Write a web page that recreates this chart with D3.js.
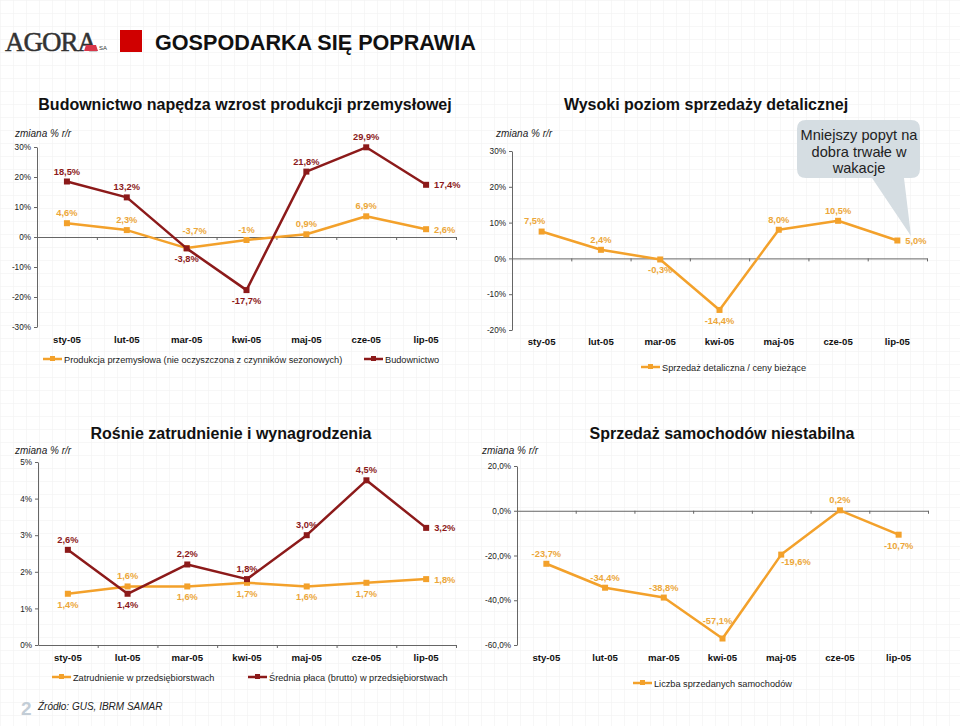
<!DOCTYPE html>
<html>
<head>
<meta charset="utf-8">
<script src="https://cdn.jsdelivr.net/npm/d3@7"></script>
<style>
  body { margin: 0; background: #fff; }
  svg { display: block; font-family: "Liberation Sans", Arial, sans-serif; }
  .axis path, .axis line { stroke: #666; }
  .axis text { fill: #222; font-size: 8.2px; }
  .cat-axis text { font-size: 9.6px; font-weight: bold; fill: #111; }
</style>
</head>
<body>
<div id="chart"></div>
<script>
//data
var months = ['sty-05', 'lut-05', 'mar-05', 'kwi-05', 'maj-05', 'cze-05', 'lip-05'];

var produkcja = [4.6, 2.3, -3.7, -1, 0.9, 6.9, 2.6];
var produkcjaLabels = ['4,6%', '2,3%', '-3,7%', '-1%', '0,9%', '6,9%', '2,6%'];
var budownictwo = [18.5, 13.2, -3.8, -17.7, 21.8, 29.9, 17.4];
var budownictwoLabels = ['18,5%', '13,2%', '-3,8%', '-17,7%', '21,8%', '29,9%', '17,4%'];

var detaliczna = [7.5, 2.4, -0.3, -14.4, 8.0, 10.5, 5.0];
var detalicznaLabels = ['7,5%', '2,4%', '-0,3%', '-14,4%', '8,0%', '10,5%', '5,0%'];

var zatrudnienie = [1.4, 1.6, 1.6, 1.7, 1.6, 1.7, 1.8];
var zatrudnienieLabels = ['1,4%', '1,6%', '1,6%', '1,7%', '1,6%', '1,7%', '1,8%'];
var placa = [2.6, 1.4, 2.2, 1.8, 3.0, 4.5, 3.2];
var placaLabels = ['2,6%', '1,4%', '2,2%', '1,8%', '3,0%', '4,5%', '3,2%'];

var samochody = [-23.7, -34.4, -38.8, -57.1, -19.6, 0.2, -10.7];
var samochodyLabels = ['-23,7%', '-34,4%', '-38,8%', '-57,1%', '-19,6%', '0,2%', '-10,7%'];

var ticks1 = [-30, -20, -10, 0, 10, 20, 30];
var ticks2 = [-20, -10, 0, 10, 20, 30];
var ticks3 = [0, 1, 2, 3, 4, 5];
var ticks4 = [-60, -40, -20, 0, 20];

//label placement (t = above, b = below, r = right ...)
var produkcjaPos = ['t', 't', 'tr', 't', 't', 't', 'r'];
var budownictwoPos = ['t', 't', 'b', 'b', 't', 't', 'r'];
var detalicznaPos = ['tl', 't', 'b', 'b', 't', 't', 'r'];
var zatrudnieniePos = ['b', 't', 'b', 'b', 'b', 'b', 'r'];
var placaPos = ['t', 'b', 't', 't', 't', 't', 'r'];
var samochodyPos = ['t', 't', 't', 'tt', 'br', 't', 'b'];

var orange = '#f3a12b',
    orangeText = '#eca73a',
    darkRed = '#8c1a1a';

var W = 960, H = 726;

var svg = d3.select('#chart').append('svg')
    .attr('width', W)
    .attr('height', H);

//faint graph paper background
var pat = svg.append('defs').append('pattern')
    .attr('id', 'grid')
    .attr('width', 13)
    .attr('height', 13)
    .attr('patternUnits', 'userSpaceOnUse');
pat.append('path')
    .attr('d', 'M13 0 L0 0 0 13')
    .attr('fill', 'none')
    .attr('stroke', '#f0f0f0')
    .attr('stroke-width', 1);
svg.append('rect').attr('width', W).attr('height', H).attr('fill', 'url(#grid)');

//header
var logo = svg.append('g');
logo.append('text')
    .attr('x', 5).attr('y', 51)
    .attr('font-family', '"Liberation Serif", serif')
    .attr('font-size', 27)
    .attr('fill', '#333')
    .attr('stroke', '#333')
    .attr('stroke-width', 0.5)
    .attr('letter-spacing', -1)
    .text('AGORA');
logo.append('polygon')
    .attr('points', '86,45 96,45 98,51 84,51')
    .attr('fill', '#d8374a');
logo.append('text')
    .attr('x', 99).attr('y', 50)
    .attr('font-size', 6)
    .attr('fill', '#333')
    .text('SA');

svg.append('rect')
    .attr('x', 120).attr('y', 30)
    .attr('width', 22).attr('height', 22)
    .attr('fill', '#d00000');

svg.append('text')
    .attr('x', 155).attr('y', 50)
    .attr('font-size', 21.6)
    .attr('font-weight', 'bold')
    .attr('fill', '#111')
    .text('GOSPODARKA SIĘ POPRAWIA');

function labelOffset(pos) {
    switch (pos) {
        case 't': return [0, -7, 'middle'];
        case 'b': return [0, 14, 'middle'];
        case 'r': return [8, 3.5, 'start'];
        case 'tr': return [8, -14, 'middle'];
        case 'tl': return [-7, -8, 'middle'];
        case 'tt': return [-5, -15, 'middle'];
        case 'br': return [0, 10, 'start'];
    }
}

function drawPanel(p) {
    var g = svg.append('g');

    var xScale = d3.scaleBand().domain(months).range([p.left, p.right]);
    var yScale = d3.scaleLinear().domain(p.domain).range([p.bottom, p.top]);

    //titles
    g.append('text')
        .attr('x', p.titleX).attr('y', p.titleY)
        .attr('text-anchor', 'middle')
        .attr('font-size', 16)
        .attr('font-weight', 'bold')
        .attr('fill', '#111')
        .text(p.title);

    g.append('text')
        .attr('x', p.unitX).attr('y', p.unitY)
        .attr('font-size', 10)
        .attr('font-style', 'italic')
        .attr('fill', '#222')
        .text('zmiana % r/r');

    //y axis
    var yAxis = d3.axisLeft(yScale)
        .tickValues(p.ticks)
        .tickSize(3)
        .tickSizeOuter(0)
        .tickFormat(p.fmt);
    g.append('g')
        .attr('class', 'axis')
        .attr('transform', 'translate(' + p.left + ',0)')
        .call(yAxis);

    //x axis line at zero with tick marks between categories
    var bounds = months.map(function(m) { return xScale(m) + xScale.bandwidth(); });
    var xLine = d3.axisBottom(d3.scaleLinear().domain([p.left, p.right]).range([p.left, p.right]))
        .tickValues(bounds)
        .tickSize(3)
        .tickSizeOuter(0)
        .tickFormat('');
    g.append('g')
        .attr('class', 'axis')
        .attr('transform', 'translate(0,' + yScale(0) + ')')
        .call(xLine);

    //category labels below the plot
    var catAxis = d3.axisBottom(xScale).tickSize(0).tickPadding(0);
    var ca = g.append('g')
        .attr('class', 'cat-axis')
        .attr('transform', 'translate(0,' + p.catY + ')')
        .call(catAxis);
    ca.select('.domain').remove();

    //series
    p.series.forEach(function(s) {
        var line = d3.line()
            .x(function(d, i) { return xScale(months[i]) + xScale.bandwidth() / 2; })
            .y(function(d) { return yScale(d); });

        g.append('path')
            .datum(s.values)
            .attr('fill', 'none')
            .attr('stroke', s.color)
            .attr('stroke-width', 2.5)
            .attr('stroke-linejoin', 'round')
            .attr('d', line);

        g.selectAll(null)
            .data(s.values)
            .enter()
            .append('rect')
            .attr('x', function(d, i) { return xScale(months[i]) + xScale.bandwidth() / 2 - 3; })
            .attr('y', function(d) { return yScale(d) - 3; })
            .attr('width', 6)
            .attr('height', 6)
            .attr('fill', s.color);

        g.selectAll(null)
            .data(s.values)
            .enter()
            .append('text')
            .attr('x', function(d, i) { return xScale(months[i]) + xScale.bandwidth() / 2 + labelOffset(s.pos[i])[0]; })
            .attr('y', function(d, i) { return yScale(d) + labelOffset(s.pos[i])[1]; })
            .attr('text-anchor', function(d, i) { return labelOffset(s.pos[i])[2]; })
            .attr('font-size', 9.3)
            .attr('font-weight', 'bold')
            .attr('fill', s.textColor)
            .text(function(d, i) { return s.labels[i]; });
    });

    //legend
    p.legend.forEach(function(l) {
        var lg = g.append('g').attr('transform', 'translate(' + l.x + ',' + p.legendY + ')');
        lg.append('line')
            .attr('x1', 0).attr('x2', 19)
            .attr('stroke', l.color)
            .attr('stroke-width', 2.5);
        lg.append('rect')
            .attr('x', 7).attr('y', -3)
            .attr('width', 5).attr('height', 5)
            .attr('fill', l.color);
        lg.append('text')
            .attr('x', 21).attr('y', 3.5)
            .attr('font-size', 9.2)
            .attr('fill', '#222')
            .text(l.text);
    });
}

var pct = function(d) { return d + '%'; };
var pct1 = function(d) { return d3.format('.1f')(d).replace('.', ',').replace('−', '-') + '%'; };

drawPanel({
    title: 'Budownictwo napędza wzrost produkcji przemysłowej', titleX: 245, titleY: 110,
    unitX: 15, unitY: 137,
    left: 37, right: 456, top: 147, bottom: 327, domain: [-30, 30], ticks: ticks1, fmt: pct,
    catY: 336, legendY: 359,
    series: [
        { values: produkcja, labels: produkcjaLabels, pos: produkcjaPos, color: orange, textColor: orangeText },
        { values: budownictwo, labels: budownictwoLabels, pos: budownictwoPos, color: darkRed, textColor: darkRed }
    ],
    legend: [
        { x: 43, color: orange, text: 'Produkcja przemysłowa (nie oczyszczona z czynników sezonowych)' },
        { x: 364, color: darkRed, text: 'Budownictwo' }
    ]
});

drawPanel({
    title: 'Wysoki poziom sprzedaży detalicznej', titleX: 706, titleY: 110,
    unitX: 496, unitY: 137,
    left: 512, right: 927, top: 151, bottom: 330, domain: [-20, 30], ticks: ticks2, fmt: pct,
    catY: 338, legendY: 367,
    series: [
        { values: detaliczna, labels: detalicznaLabels, pos: detalicznaPos, color: orange, textColor: orangeText }
    ],
    legend: [
        { x: 641, color: orange, text: 'Sprzedaż detaliczna / ceny bieżące' }
    ]
});

drawPanel({
    title: 'Rośnie zatrudnienie i wynagrodzenia', titleX: 231, titleY: 439,
    unitX: 15, unitY: 454,
    left: 38, right: 456, top: 462, bottom: 645, domain: [0, 5], ticks: ticks3, fmt: pct,
    catY: 654, legendY: 677,
    series: [
        { values: zatrudnienie, labels: zatrudnienieLabels, pos: zatrudnieniePos, color: orange, textColor: orangeText },
        { values: placa, labels: placaLabels, pos: placaPos, color: darkRed, textColor: darkRed }
    ],
    legend: [
        { x: 52, color: orange, text: 'Zatrudnienie w przedsiębiorstwach' },
        { x: 248, color: darkRed, text: 'Średnia płaca (brutto) w przedsiębiorstwach' }
    ]
});

drawPanel({
    title: 'Sprzedaż samochodów niestabilna', titleX: 722, titleY: 439,
    unitX: 482, unitY: 454,
    left: 517, right: 928, top: 466, bottom: 645, domain: [-60, 20], ticks: ticks4, fmt: pct1,
    catY: 654, legendY: 683,
    series: [
        { values: samochody, labels: samochodyLabels, pos: samochodyPos, color: orange, textColor: orangeText }
    ],
    legend: [
        { x: 633, color: orange, text: 'Liczba sprzedanych samochodów' }
    ]
});

//callout bubble
var bubble = svg.append('g');
bubble.append('path')
    .attr('d', 'M806,120 H911 Q920,120 920,129 V169 Q920,178 911,178 H904 L911,236 L872,178 H806 Q797,178 797,169 V129 Q797,120 806,120 Z')
    .attr('fill', '#d5dde2');
bubble.selectAll(null)
    .data(['Mniejszy popyt na', 'dobra trwałe w', 'wakacje'])
    .enter()
    .append('text')
    .attr('x', 859)
    .attr('y', function(d, i) { return 140 + i * 16.5; })
    .attr('text-anchor', 'middle')
    .attr('font-size', 14.6)
    .attr('fill', '#222')
    .text(function(d) { return d; });

//footer
svg.append('text')
    .attr('x', 21).attr('y', 715)
    .attr('font-size', 19)
    .attr('font-weight', 'bold')
    .attr('fill', '#c3cdd6')
    .text('2');
svg.append('text')
    .attr('x', 38).attr('y', 710)
    .attr('font-size', 10)
    .attr('font-style', 'italic')
    .attr('fill', '#222')
    .text('Źródło: GUS, IBRM SAMAR');
</script>
</body>
</html>
